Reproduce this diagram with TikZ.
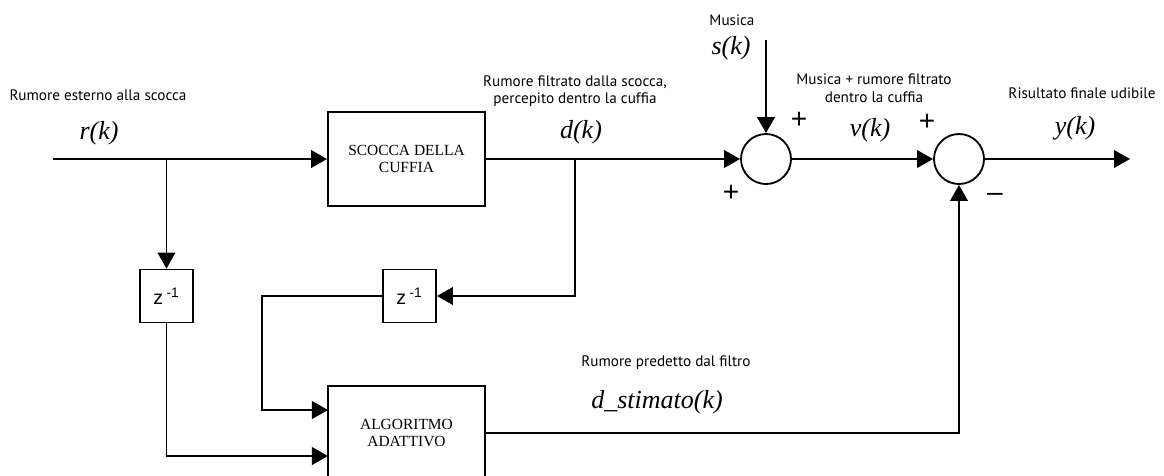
\documentclass[tikz,border=0pt]{standalone}
\usepackage{fontspec}
\setmainfont{Liberation Serif}
\setsansfont{PT Sans}
\newfontfamily\zfont{Liberation Sans}
\usetikzlibrary{arrows.meta,positioning}
\tikzstyle{block}=[rectangle, draw=black, line width=1.3pt, minimum width=3.925cm,
  minimum height=2.35cm, align=center, font=\fontsize{11}{12.5}\selectfont]
\tikzstyle{delay}=[rectangle, draw=black, line width=1.3pt, minimum size=1.325cm,
  inner sep=0pt, font=\zfont\fontsize{14}{15}\selectfont]
\tikzstyle{sum}=[circle, draw=black, line width=1.3pt, minimum size=1.25cm, inner sep=0pt]
\tikzstyle{arrow}=[-{Triangle[length=4mm,width=4.4mm]}, line width=1.3pt]

\begin{document}
\begin{tikzpicture}[x=0.025cm, y=-0.025cm,
  lbl/.style={font=\sffamily\fontsize{10.8}{12.5}\selectfont, align=center, inner sep=0pt},
  sig/.style={font=\itshape\fontsize{18.5}{20}\selectfont, inner sep=0pt},
  sgn/.style={font=\zfont\fontsize{20}{21}\selectfont, inner sep=0pt}]
\useasboundingbox (0,0) rectangle (1164,475);

% blocks
\node[block] (scocca) at (406.5,159) {SCOCCA DELLA\\CUFFIA};
\node[block] (alg) at (406.5,433) {ALGORITMO\\ADATTIVO};
\node[delay] (z1) at (166.5,296) {z\,\textsuperscript{-1}};
\node[delay] (z2) at (409.5,296) {z\,\textsuperscript{-1}};
\node[sum] (sum1) at (766,159) {};
\node[sum] (sum2) at (959,159) {};

% free ends and corners
\coordinate (rin) at (53,159);
\coordinate (rb) at (166.5,159);
\coordinate (db) at (575,159);
\coordinate (mus) at (766,40);
\coordinate (yout) at (1130,159);
\coordinate (fb) at (262,410);
\coordinate (a1) at (328,410);
\coordinate (a2) at (328,456);

% signal paths
\draw[arrow] (rin) -- (scocca.west);
\draw[arrow] (rb) -- (z1.north);
\draw[arrow] (scocca.east) -- (sum1.west);
\draw[arrow] (db) |- (z2.east);
\draw[arrow] (z2.west) -| (fb) -- (a1);
\draw[arrow] (z1.south) |- (a2);
\draw[arrow] (mus) -- (sum1.north);
\draw[arrow] (sum1.east) -- (sum2.west);
\draw[arrow] (alg.east) -| (sum2.south);
\draw[arrow] (sum2.east) -- (yout);

% labels
\node[lbl] (lr) at (98,95) {Rumore esterno alla scocca};
\node[sig] (sr) at (99,133) {r(k)};
\node[lbl] (ld) at (575,91) {Rumore filtrato dalla scocca,\\percepito dentro la cuffia};
\node[sig] (sd) at (581,132) {d(k)};
\node[lbl] (lm) at (732,20) {Musica};
\node[sig] (sm) at (731,48) {s(k)};
\node[lbl] (lv) at (874,88) {Musica + rumore filtrato\\dentro la cuffia};
\node[sig] (sv) at (870,130) {v(k)};
\node[lbl] (ly) at (1082,93) {Risultato finale udibile};
\node[sig] (sy) at (1075,128) {y(k)};
\node[lbl] (lp) at (666,363) {Rumore predetto dal filtro};
\node[sig] (sp) at (657,402) {d\_stimato(k)};

% signs
\node[sgn] (p1) at (799,120) {+};
\node[sgn] (p2) at (731,193) {+};
\node[sgn] (p3) at (927,122) {+};
\node[sgn] (m1) at (995,197) {\textendash};
\end{tikzpicture}
\end{document}
